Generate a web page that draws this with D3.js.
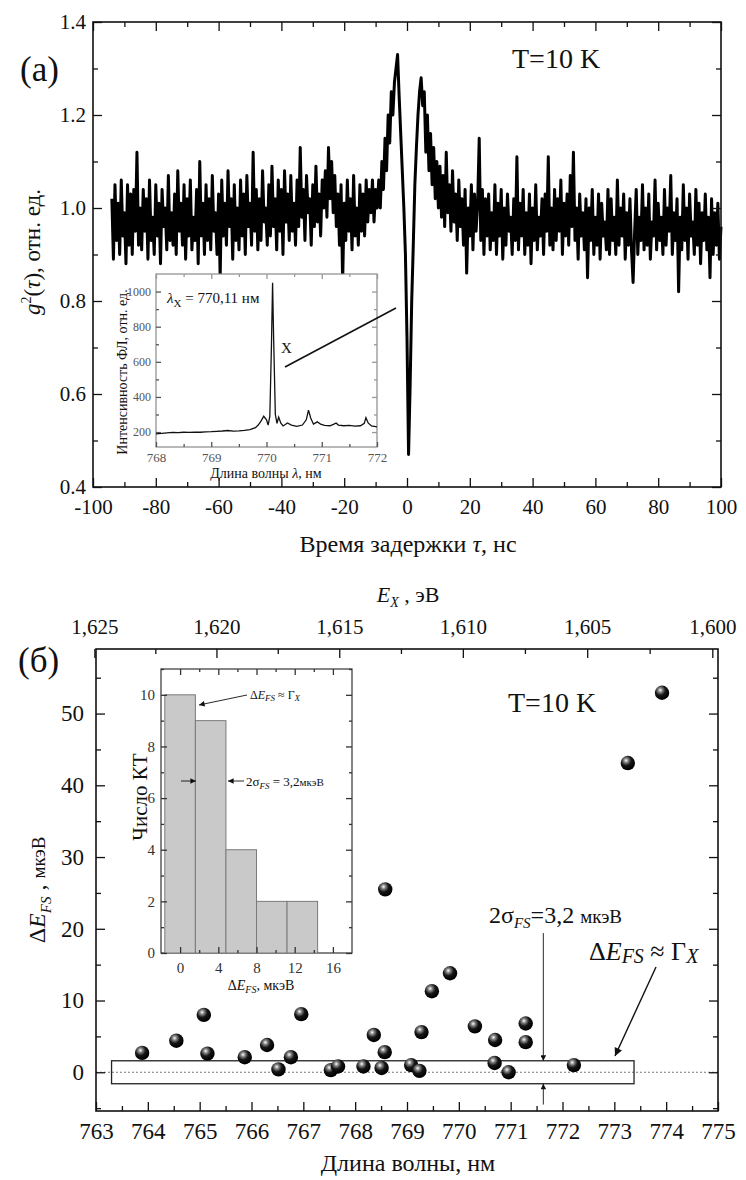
<!DOCTYPE html>
<html>
<head>
<meta charset="UTF-8">
<script src="https://cdn.jsdelivr.net/npm/d3@7"></script>
<style>
    body { margin: 0; background: #fff; }
</style>
</head>
<body>
<svg id="chart" width="746" height="1180"></svg>
<script>
    // ---- panel (a): g2(tau), every 0.5 ns starting at -94 ns
    var tauStart = -94, tauStep = 0.5;
    var g2Values = [
        1.02,0.89,1.05,0.93,1.01,0.90,1.06,0.94,0.99,0.88,1.05,0.92,1.03,0.90,1.04,0.95,1.12,0.92,1.00,0.91,
        1.04,0.95,1.02,0.89,1.06,0.93,0.98,0.90,1.05,0.94,1.01,0.88,1.04,0.96,1.00,0.91,1.07,0.93,0.99,0.92,
        1.03,0.90,1.08,0.95,1.01,0.92,1.05,0.89,1.02,0.94,1.06,0.91,0.98,0.93,1.04,0.88,1.10,0.94,1.01,0.90,
        1.05,0.93,1.02,0.91,1.07,0.95,0.99,0.90,1.03,0.85,1.06,0.94,1.01,0.92,1.08,0.96,1.02,0.89,1.05,0.93,
        1.00,0.91,1.06,0.94,1.03,0.90,1.07,0.96,1.01,0.92,1.12,0.95,1.04,0.91,1.02,0.93,1.08,0.97,1.00,0.92,
        1.05,0.94,1.09,0.96,1.02,0.91,1.06,0.95,1.04,0.90,1.08,0.97,1.03,0.93,1.07,0.95,1.01,0.92,1.06,0.96,
        1.13,0.98,1.04,0.93,1.07,0.99,1.02,0.92,1.05,0.96,1.09,0.97,1.03,0.94,1.06,1.00,1.08,0.98,1.13,1.02,
        1.10,0.99,1.07,0.96,1.03,0.92,1.05,0.84,1.01,0.93,1.06,0.95,1.02,0.91,1.07,0.94,1.00,0.92,1.05,0.95,
        1.03,0.94,1.06,0.97,1.04,0.99,1.06,0.97,1.04,1.00,1.06,1.00,1.10,1.04,1.15,1.08,1.20,1.14,1.25,1.20,
        1.27,1.30,1.33,1.24,1.16,1.08,1.00,0.90,0.72,0.47,0.62,0.80,0.92,1.05,1.13,1.20,1.25,1.28,1.22,1.25,
        1.12,1.20,1.08,1.16,1.05,1.13,1.02,1.10,1.00,1.09,0.98,1.07,0.96,1.12,0.99,1.05,0.95,1.08,0.97,1.03,
        0.93,1.06,0.96,1.02,0.92,1.04,0.86,1.00,0.94,1.05,0.91,1.03,0.95,1.01,1.15,0.93,1.04,0.90,1.02,0.94,
        1.03,0.91,0.99,0.93,1.05,0.90,1.01,0.94,1.04,0.89,1.00,0.92,1.03,0.95,0.98,0.90,1.02,0.93,1.11,0.91,
        1.01,0.94,1.04,0.90,0.99,0.92,1.03,0.88,1.00,0.93,1.05,0.91,0.98,0.94,1.02,0.90,1.03,0.95,1.11,0.92,
        1.00,0.91,1.04,0.93,1.02,0.95,1.06,0.90,1.01,0.94,1.03,0.92,1.07,0.96,1.12,0.93,1.00,0.89,1.03,0.94,
        0.99,0.91,1.02,0.85,1.00,0.93,1.04,0.90,0.98,0.92,1.03,0.89,1.01,0.94,0.97,0.91,1.04,0.90,1.02,0.93,
        0.98,0.90,1.06,0.92,1.00,0.94,1.03,0.89,0.99,0.92,1.02,0.91,0.84,0.95,1.04,0.90,0.98,0.93,1.05,0.91,
        1.00,0.92,1.03,0.89,0.97,0.94,1.06,0.91,1.01,0.93,0.98,0.90,1.04,0.92,1.00,0.95,1.07,0.90,0.99,0.93,
        1.02,0.82,0.98,0.91,1.05,0.93,1.00,0.89,1.03,0.94,0.97,0.90,1.04,0.92,1.01,0.88,0.99,0.93,1.03,0.91,
        0.98,0.85,1.02,0.90,0.99,0.92,1.01,0.89,0.96
    ];

    // inset (a): PL spectrum
    var specLambda = [768.0,768.1,768.2,768.3,768.4,768.5,768.6,768.7,768.8,768.9,769.0,769.1,769.2,769.3,769.4,
        769.5,769.6,769.7,769.8,769.85,769.9,769.95,770.0,770.03,770.06,770.09,770.11,770.13,770.16,770.19,
        770.22,770.26,770.3,770.38,770.45,770.55,770.65,770.72,770.76,770.8,770.85,770.92,770.98,771.05,
        771.15,771.22,771.26,771.3,771.4,771.5,771.6,771.7,771.77,771.8,771.84,771.9,772.0];
    var specIntensity = [190,192,196,198,197,199,198,200,199,201,202,204,206,209,205,
        207,210,214,225,240,262,290,270,240,290,700,1050,720,300,250,
        285,250,235,252,240,232,240,270,325,280,245,258,245,238,
        236,245,252,240,236,238,234,236,250,282,252,235,230];

    // ---- panel (б): fine structure splitting vs wavelength
    var lambdaQD = [763.89,764.55,765.08,765.15,765.87,766.30,766.52,766.76,766.96,767.53,767.67,768.16,768.36,
        768.51,768.57,768.58,769.08,769.24,769.28,769.48,769.83,770.31,770.70,770.69,770.96,771.29,771.29,
        772.22,773.26,773.92];
    var dEfs = [2.7,4.4,8.0,2.6,2.1,3.8,0.4,2.1,8.1,0.3,0.8,0.8,5.2,0.6,2.8,25.5,1.0,0.2,5.6,11.3,13.8,6.4,4.5,
        1.3,0.0,6.8,4.2,1.0,43.1,52.9];

    // inset (б): histogram
    var binEdges = [-1.6,1.6,4.8,8.0,11.2,14.4];
    var binCounts = [10,9,4,2,2];

    var sigma2 = 1.6;     // half of 2σ = 3,2 мкэВ
    var hc = 1239.84;     // eV*nm

    // tick values
    var tauMajor = [-100,-80,-60,-40,-20,0,20,40,60,80,100];
    var tauMinor = [-90,-70,-50,-30,-10,10,30,50,70,90];
    var g2Major = [0.4,0.6,0.8,1.0,1.2,1.4];
    var g2Minor = [0.5,0.7,0.9,1.1,1.3];
    var specXMajor = [768,769,770,771,772];
    var specXMinor = [768.5,769.5,770.5,771.5];
    var specYMajor = [200,400,600,800,1000];
    var specYMinor = [300,500,700,900];
    var lamMajor = [763,764,765,766,767,768,769,770,771,772,773,774,775];
    var lamMinor = [763.5,764.5,765.5,766.5,767.5,768.5,769.5,770.5,771.5,772.5,773.5,774.5];
    var dEMajor = [0,10,20,30,40,50];
    var dEMinor = [-5,5,15,25,35,45,55];
    var eMajor = [1.625,1.620,1.615,1.610,1.605,1.600];
    var eMinor = [1.6225,1.6175,1.6125,1.6075,1.6025];
    var hXMajor = [0,4,8,12,16];
    var hXMinor = [2,6,10,14];
    var hYMajor = [0,2,4,6,8,10];
    var hYMinor = [1,3,5,7,9,11];

    var svg = d3.select("#chart");
    svg.append("rect").attr("width", 746).attr("height", 1180).attr("fill", "#fff");

    var defs = svg.append("defs");
    var grad = defs.append("radialGradient").attr("id", "ball")
            .attr("cx", "38%").attr("cy", "32%").attr("r", "65%");
    grad.append("stop").attr("offset", "0%").attr("stop-color", "#ffffff");
    grad.append("stop").attr("offset", "22%").attr("stop-color", "#8a8a8a");
    grad.append("stop").attr("offset", "55%").attr("stop-color", "#161616");
    grad.append("stop").attr("offset", "100%").attr("stop-color", "#000");

    function marker(id, size) {
        defs.append("marker").attr("id", id)
                .attr("viewBox", "0 0 10 10").attr("refX", 10).attr("refY", 5)
                .attr("markerUnits", "userSpaceOnUse")
                .attr("markerWidth", size).attr("markerHeight", size * 0.8)
                .attr("orient", "auto")
                .append("path").attr("d", "M0,0 L10,5 L0,10 z").attr("fill", "#111");
    }
    marker("arrBig", 10);
    marker("arrSmall", 7);

    // inward ticks, optional labels
    function addAxis(gen, scale, tx, ty, majors, minors, fmt, big, small, pad, fs, color) {
        var a = svg.append("g").attr("transform", "translate(" + tx + "," + ty + ")");
        a.append("g").call(gen(scale).tickValues(minors).tickSize(-small).tickFormat(""));
        a.append("g").call(gen(scale).tickValues(majors).tickSize(-big).tickPadding(pad)
                .tickFormat(fmt ? fmt : ""));
        a.selectAll(".domain").remove();
        a.selectAll("line").attr("stroke", color).attr("stroke-width", 1.3);
        a.selectAll("text").attr("font-size", fs).style("fill", color);
        return a;
    }

    // ================= panel (a) =================
    var xA = d3.scaleLinear().domain([-100, 100]).range([93, 721]);
    var yA = d3.scaleLinear().domain([0.4, 1.4]).range([487, 22]);

    var g2Line = d3.line()
            .x(function(d, i) { return xA(tauStart + i * tauStep); })
            .y(function(d) { return yA(d); });
    svg.append("path").datum(g2Values).attr("d", g2Line)
            .attr("fill", "none").attr("stroke", "#000").attr("stroke-width", 3)
            .attr("stroke-linejoin", "round");

    svg.append("rect").attr("x", 93).attr("y", 22).attr("width", 628).attr("height", 465)
            .attr("fill", "none").attr("stroke", "#111").attr("stroke-width", 1.6);

    addAxis(d3.axisBottom, xA, 0, 487, tauMajor, tauMinor, function(d) { return String(d); }, 9, 5, 12, 21, "#111");
    addAxis(d3.axisTop, xA, 0, 22, tauMajor, tauMinor, null, 9, 5, 5, 21, "#111");
    addAxis(d3.axisLeft, yA, 93, 0, g2Major, g2Minor, d3.format(".1f"), 9, 5, 7, 21, "#111");
    addAxis(d3.axisRight, yA, 721, 0, g2Major, g2Minor, null, 9, 5, 5, 21, "#111");

    svg.append("text").attr("x", 20).attr("y", 81).attr("font-size", 35).text("(a)");
    svg.append("text").attr("x", 512).attr("y", 68).attr("font-size", 28).text("T=10 K");

    var tA = svg.append("text").attr("x", 408).attr("y", 552).attr("text-anchor", "middle").attr("font-size", 24);
    tA.append("tspan").text("Время задержки ");
    tA.append("tspan").attr("font-style", "italic").text("τ");
    tA.append("tspan").text(", нс");

    var yLab = svg.append("text").attr("transform", "translate(40,252) rotate(-90)")
            .attr("text-anchor", "middle").attr("font-size", 23);
    yLab.append("tspan").attr("font-style", "italic").text("g");
    yLab.append("tspan").attr("font-size", 14).attr("dy", -9).text("2");
    yLab.append("tspan").attr("dy", 9).text("(");
    yLab.append("tspan").attr("font-style", "italic").text("τ");
    yLab.append("tspan").text("), отн. ед.");

    // inset (a)
    var xI = d3.scaleLinear().domain([768, 772]).range([156, 377]);
    var yI = d3.scaleLinear().domain([115, 1100]).range([447, 274]);
    svg.append("rect").attr("x", 156).attr("y", 274).attr("width", 221).attr("height", 173)
            .attr("fill", "#fff").attr("stroke", "#8a8a8a").attr("stroke-width", 1.2);
    addAxis(d3.axisBottom, xI, 0, 447, specXMajor, specXMinor, function(d) { return String(d); }, 5, 3, 6, 13, "#555");
    addAxis(d3.axisTop, xI, 0, 274, specXMajor, specXMinor, null, 5, 3, 4, 13, "#999");
    addAxis(d3.axisLeft, yI, 156, 0, specYMajor, specYMinor, function(d) { return String(d); }, 5, 3, 5, 12, "#555");
    addAxis(d3.axisRight, yI, 377, 0, specYMajor, specYMinor, null, 5, 3, 4, 13, "#999");

    var specLine = d3.line()
            .x(function(d, i) { return xI(specLambda[i]); })
            .y(function(d) { return yI(d); });
    svg.append("path").datum(specIntensity).attr("d", specLine)
            .attr("fill", "none").attr("stroke", "#111").attr("stroke-width", 1.3);

    var lx = svg.append("text").attr("x", 167).attr("y", 303).attr("font-size", 15);
    lx.append("tspan").attr("font-style", "italic").text("λ");
    lx.append("tspan").attr("font-size", 11).attr("dy", 4).text("X");
    lx.append("tspan").attr("dy", -4).text(" = 770,11 нм");
    svg.append("text").attr("x", 281).attr("y", 353).attr("font-size", 15).text("X");
    svg.append("line").attr("x1", 285).attr("y1", 367).attr("x2", 396).attr("y2", 308)
            .attr("stroke", "#111").attr("stroke-width", 1.6);

    var ixl = svg.append("text").attr("x", 266).attr("y", 478).attr("text-anchor", "middle").attr("font-size", 14);
    ixl.append("tspan").text("Длина волны ");
    ixl.append("tspan").attr("font-style", "italic").text("λ");
    ixl.append("tspan").text(", нм");
    svg.append("text").attr("transform", "translate(127,372) rotate(-90)")
            .attr("text-anchor", "middle").attr("font-size", 14).text("Интенсивность ФЛ, отн. ед.");

    // ================= panel (б) =================
    var xB = d3.scaleLinear().domain([763, 775]).range([96, 718]);
    var yB = d3.scaleLinear().domain([-5.4, 59]).range([1111, 649]);

    // dotted zero line and 2σ box
    svg.append("line").attr("x1", 96).attr("x2", 718).attr("y1", yB(0)).attr("y2", yB(0))
            .attr("stroke", "#777").attr("stroke-width", 1).attr("stroke-dasharray", "2,2");
    svg.append("rect").attr("x", xB(763.3)).attr("y", yB(sigma2))
            .attr("width", xB(773.38) - xB(763.3)).attr("height", yB(-sigma2) - yB(sigma2))
            .attr("fill", "none").attr("stroke", "#222").attr("stroke-width", 1.3);

    svg.append("rect").attr("x", 96).attr("y", 649).attr("width", 622).attr("height", 462)
            .attr("fill", "none").attr("stroke", "#111").attr("stroke-width", 1.6);

    addAxis(d3.axisBottom, xB, 0, 1111, lamMajor, lamMinor, function(d) { return String(d); }, 9, 5, 12, 23, "#111");
    addAxis(d3.axisLeft, yB, 96, 0, dEMajor, dEMinor, function(d) { return String(d); }, 9, 5, 12, 23, "#111");
    addAxis(d3.axisRight, yB, 718, 0, dEMajor, dEMinor, null, 9, 5, 5, 23, "#111");

    // top energy axis, positions through xB(hc/E)
    var eFmt = function(d) { return d3.format(".3f")(d).replace(".", ","); };
    var topAx = svg.append("g");
    topAx.selectAll("line.maj").data(eMajor).enter().append("line")
            .attr("x1", function(d) { return xB(hc / d); }).attr("x2", function(d) { return xB(hc / d); })
            .attr("y1", 649).attr("y2", 658).attr("stroke", "#111").attr("stroke-width", 1.3);
    topAx.selectAll("line.min").data(eMinor).enter().append("line")
            .attr("x1", function(d) { return xB(hc / d); }).attr("x2", function(d) { return xB(hc / d); })
            .attr("y1", 649).attr("y2", 654).attr("stroke", "#111").attr("stroke-width", 1.3);
    topAx.selectAll("text").data(eMajor).enter().append("text")
            .attr("x", function(d) { return xB(hc / d); }).attr("y", 634)
            .attr("text-anchor", "middle").attr("font-size", 21).text(eFmt);

    var eLab = svg.append("text").attr("x", 408).attr("y", 602).attr("text-anchor", "middle").attr("font-size", 22);
    eLab.append("tspan").attr("font-style", "italic").text("E");
    eLab.append("tspan").attr("font-style", "italic").attr("font-size", 14).attr("dy", 5).text("X");
    eLab.append("tspan").attr("dy", -5).text(" , эВ");

    svg.append("text").attr("x", 18).attr("y", 672).attr("font-size", 35).text("(б)");
    svg.append("text").attr("x", 508).attr("y", 712).attr("font-size", 28).text("T=10 K");

    svg.append("text").attr("x", 408).attr("y", 1171).attr("text-anchor", "middle")
            .attr("font-size", 24).text("Длина волны, нм");

    var byl = svg.append("text").attr("transform", "translate(45,890) rotate(-90)")
            .attr("text-anchor", "middle").attr("font-size", 24);
    byl.append("tspan").text("Δ");
    byl.append("tspan").attr("font-style", "italic").text("E");
    byl.append("tspan").attr("font-style", "italic").attr("font-size", 15).attr("dy", 6).text("FS");
    byl.append("tspan").attr("dy", -6).text(" , ");
    byl.append("tspan").attr("font-size", 19).text("мкэВ");

    // scatter
    svg.append("g").selectAll("circle").data(dEfs).enter().append("circle")
            .attr("cx", function(d, i) { return xB(lambdaQD[i]); })
            .attr("cy", function(d) { return yB(d); })
            .attr("r", 7.2).attr("fill", "url(#ball)");

    // 2σ annotation
    var sx = xB(771.63);
    svg.append("line").attr("x1", sx).attr("x2", sx).attr("y1", yB(19.4)).attr("y2", yB(sigma2))
            .attr("stroke", "#111").attr("stroke-width", 0.9).attr("marker-end", "url(#arrSmall)");
    svg.append("line").attr("x1", sx).attr("x2", sx).attr("y1", yB(-4.5)).attr("y2", yB(-sigma2))
            .attr("stroke", "#111").attr("stroke-width", 0.9).attr("marker-end", "url(#arrSmall)");
    var st = svg.append("text").attr("x", 489).attr("y", 923).attr("font-size", 24);
    st.append("tspan").text("2σ");
    st.append("tspan").attr("font-style", "italic").attr("font-size", 15).attr("dy", 5).text("FS");
    st.append("tspan").attr("dy", -5).text("=3,2 ");
    st.append("tspan").attr("font-size", 19).text("мкэВ");

    var gt = svg.append("text").attr("x", 589).attr("y", 960).attr("font-size", 26);
    gt.append("tspan").text("Δ");
    gt.append("tspan").attr("font-style", "italic").text("E");
    gt.append("tspan").attr("font-style", "italic").attr("font-size", 20).attr("dy", 3).text("FS");
    gt.append("tspan").attr("dy", -3).text(" ≈ Γ");
    gt.append("tspan").attr("font-style", "italic").attr("font-size", 20).attr("dy", 3).text("X");
    svg.append("line").attr("x1", 656).attr("y1", 967).attr("x2", 615).attr("y2", 1056)
            .attr("stroke", "#111").attr("stroke-width", 1.4).attr("marker-end", "url(#arrBig)");

    // inset (б): histogram
    var xH = d3.scaleLinear().domain([-2, 18]).range([161, 352]);
    var yH = d3.scaleLinear().domain([0, 11]).range([953, 669]);
    svg.append("rect").attr("x", 161).attr("y", 669).attr("width", 191).attr("height", 284)
            .attr("fill", "#fff").attr("stroke", "#444").attr("stroke-width", 1.3);
    svg.append("g").selectAll("rect").data(binCounts).enter().append("rect")
            .attr("x", function(d, i) { return xH(binEdges[i]); })
            .attr("width", function(d, i) { return xH(binEdges[i + 1]) - xH(binEdges[i]); })
            .attr("y", function(d) { return yH(d); })
            .attr("height", function(d) { return yH(0) - yH(d); })
            .attr("fill", "#c9c9c9").attr("stroke", "#7a7a7a").attr("stroke-width", 1);

    addAxis(d3.axisBottom, xH, 0, 953, hXMajor, hXMinor, function(d) { return String(d); }, 6, 3, 9, 15, "#333");
    addAxis(d3.axisTop, xH, 0, 669, hXMajor, hXMinor, null, 6, 3, 4, 15, "#333");
    addAxis(d3.axisLeft, yH, 161, 0, hYMajor, hYMinor, function(d) { return String(d); }, 6, 3, 6, 15, "#333");
    addAxis(d3.axisRight, yH, 352, 0, hYMajor, hYMinor, null, 6, 3, 4, 15, "#333");

    svg.append("text").attr("transform", "translate(147,797) rotate(-90)")
            .attr("text-anchor", "middle").attr("font-size", 21).text("Число КТ");
    var hxl = svg.append("text").attr("x", 261).attr("y", 990).attr("text-anchor", "middle").attr("font-size", 14);
    hxl.append("tspan").text("Δ");
    hxl.append("tspan").attr("font-style", "italic").text("E");
    hxl.append("tspan").attr("font-style", "italic").attr("font-size", 10).attr("dy", 3).text("FS");
    hxl.append("tspan").attr("dy", -3).text(", мкэВ");

    var h1 = svg.append("text").attr("x", 250).attr("y", 699).attr("font-size", 12);
    h1.append("tspan").text("Δ");
    h1.append("tspan").attr("font-style", "italic").text("E");
    h1.append("tspan").attr("font-style", "italic").attr("font-size", 9).attr("dy", 2).text("FS");
    h1.append("tspan").attr("dy", -2).text(" ≈ Γ");
    h1.append("tspan").attr("font-style", "italic").attr("font-size", 9).attr("dy", 2).text("X");
    svg.append("line").attr("x1", 247).attr("y1", 695).attr("x2", 199).attr("y2", 705)
            .attr("stroke", "#111").attr("stroke-width", 0.9).attr("marker-end", "url(#arrSmall)");

    var h2 = svg.append("text").attr("x", 246).attr("y", 786).attr("font-size", 13);
    h2.append("tspan").text("2σ");
    h2.append("tspan").attr("font-style", "italic").attr("font-size", 9).attr("dy", 3).text("FS");
    h2.append("tspan").attr("dy", -3).text(" = 3,2");
    h2.append("tspan").attr("font-size", 11).text("мкэВ");
    svg.append("line").attr("x1", 244).attr("y1", 781).attr("x2", 228).attr("y2", 781)
            .attr("stroke", "#111").attr("stroke-width", 0.9).attr("marker-end", "url(#arrSmall)");
    svg.append("line").attr("x1", 181).attr("y1", 781).attr("x2", 196).attr("y2", 781)
            .attr("stroke", "#111").attr("stroke-width", 0.9).attr("marker-end", "url(#arrSmall)");

    // serif everywhere, set inline so nothing from the axis defaults wins
    svg.selectAll("g").attr("font-family", null);
    svg.selectAll("text").style("font-family", "'Liberation Serif', 'Times New Roman', serif");
    svg.selectAll("text:not([style*='fill'])").style("fill", "#111");
</script>
</body>
</html>
